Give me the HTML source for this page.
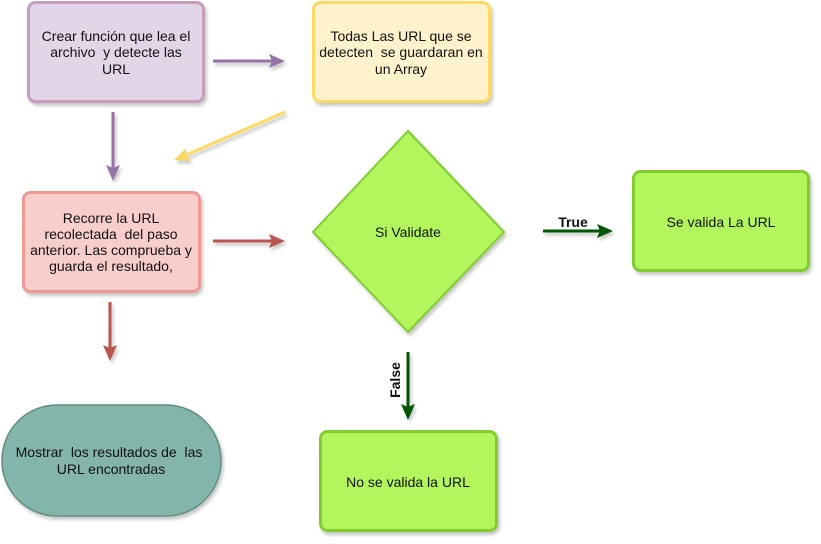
<!DOCTYPE html>
<html><head><meta charset="utf-8"><style>
html,body{margin:0;padding:0;background:#fff;}
svg{display:block;}
text{font-family:"Liberation Sans",Arial,sans-serif;font-size:14px;fill:#111;white-space:pre;}
</style></head><body>
<svg width="821" height="544" viewBox="0 0 821 544" xmlns="http://www.w3.org/2000/svg" xml:space="preserve">
<defs>
<filter id="sh" x="-10%" y="-10%" width="130%" height="130%"><feDropShadow dx="2" dy="3" stdDeviation="1.5" flood-color="#000" flood-opacity="0.22"/></filter>
</defs>
<g filter="url(#sh)">
<rect x="28.5" y="2.5" width="175" height="99" rx="7" fill="#e1d5e7" stroke="#c79dba" stroke-width="3"/>
<rect x="313.5" y="2.5" width="176" height="99" rx="7" fill="#fff2cc" stroke="#ffd966" stroke-width="3"/>
<rect x="23.5" y="192.5" width="176" height="99" rx="7" fill="#f8cecc" stroke="#ee9994" stroke-width="3"/>
<polygon points="408,131 504,232 408,332 313,232" fill="#b3f55c" stroke="#82cc33" stroke-width="2"/>
<rect x="633.5" y="171.5" width="175" height="99" rx="7" fill="#b3f55c" stroke="#82cc33" stroke-width="3"/>
<rect x="320.5" y="431.5" width="176" height="99" rx="7" fill="#b3f55c" stroke="#82cc33" stroke-width="3"/>
<rect x="2" y="405" width="219" height="111" rx="55" fill="#83b5ab" stroke="#5e8d80" stroke-width="1.5"/>
</g>
<g filter="url(#sh)">
<line x1="213" y1="61" x2="272" y2="61" stroke="#9673a6" stroke-width="3"/>
<polygon points="285,61 269,54 272,61 269,68" fill="#9673a6"/>
<line x1="113" y1="112" x2="113" y2="168" stroke="#9673a6" stroke-width="3"/>
<polygon points="113,181 106,165 113,168 120,165" fill="#9673a6"/>
<line x1="285" y1="112" x2="186" y2="155" stroke="#ffd966" stroke-width="3"/>
<polygon points="174,160 186,148 186,155 191,161" fill="#ffd966"/>
<line x1="213" y1="241" x2="272" y2="241" stroke="#b85450" stroke-width="3"/>
<polygon points="285,241 269,234 272,241 269,248" fill="#b85450"/>
<line x1="110" y1="302" x2="110" y2="348" stroke="#b85450" stroke-width="3"/>
<polygon points="110,361 103,345 110,348 117,345" fill="#b85450"/>
<line x1="543" y1="231" x2="600" y2="231" stroke="#005700" stroke-width="3"/>
<polygon points="613,231 597,224 600,231 597,238" fill="#005700"/>
<line x1="408" y1="352" x2="408" y2="407" stroke="#005700" stroke-width="3"/>
<polygon points="408,420 401,404 408,407 415,404" fill="#005700"/>
</g>
<text x="573" y="227" text-anchor="middle" style="font-weight:bold">True</text>
<text transform="translate(400,380) rotate(-90)" text-anchor="middle" style="font-weight:bold">False</text>
<text x="116" y="41" text-anchor="middle">Crear función que lea el</text>
<text x="116" y="57" text-anchor="middle">archivo  y detecte las</text>
<text x="116" y="74" text-anchor="middle">URL</text>
<text x="401" y="41" text-anchor="middle">Todas Las URL que se</text>
<text x="401" y="57" text-anchor="middle">detecten  se guardaran en</text>
<text x="401" y="74" text-anchor="middle">un Array</text>
<text x="111" y="223" text-anchor="middle">Recorre la URL</text>
<text x="111" y="239" text-anchor="middle">recolectada  del paso</text>
<text x="111" y="255" text-anchor="middle">anterior. Las comprueba y</text>
<text x="111" y="271" text-anchor="middle">guarda el resultado,</text>
<text x="408" y="237" text-anchor="middle">Si Validate</text>
<text x="721" y="227" text-anchor="middle">Se valida La URL</text>
<text x="408" y="487" text-anchor="middle">No se valida la URL</text>
<text x="109" y="457" text-anchor="middle">Mostrar  los resultados de  las</text>
<text x="111" y="474" text-anchor="middle">URL encontradas</text>
</svg>
</body></html>
